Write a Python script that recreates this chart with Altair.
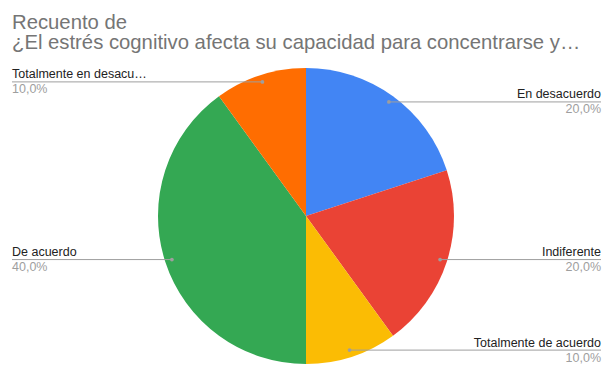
import altair as alt
import pandas as pd

categories = ["En desacuerdo", "Indiferente", "Totalmente de acuerdo", "De acuerdo", "Totalmente en desacuerdo"]
counts = [2, 2, 1, 4, 1]
colors = ["#4285F4", "#EA4335", "#FBBC04", "#34A853", "#FF6D01"]
title_lines = ["Recuento de", "¿El estrés cognitivo afecta su capacidad para concentrarse y…"]

df = pd.DataFrame({"categoria": categories, "cuenta": counts, "orden": list(range(len(categories)))})

FONT = "Liberation Sans"
CX, CY, R, RD = 306, 216, 148, 141
W, H = 605, 365

base = alt.Chart(df).transform_window(
    cum="sum(cuenta)", sort=[{"field": "orden"}]
).transform_joinaggregate(
    total="sum(cuenta)"
).transform_calculate(
    mid="(datum.cum - datum.cuenta/2) / datum.total * 2 * PI",
    pct="replace(format(datum.cuenta / datum.total * 100, '.1f'), '.', ',') + '%'",
).transform_calculate(
    px=f"{CX} + {RD} * sin(datum.mid)",
    py=f"{CY} - {RD} * cos(datum.mid)",
    right="sin(datum.mid) >= 0",
).transform_calculate(
    lx=f"datum.right ? {W - 4} : 12",
    ny="datum.py - 3.5",
    vy="datum.py + 11.5",
)

pie = alt.Chart(df).mark_arc(outerRadius=R).encode(
    theta=alt.Theta("cuenta:Q", stack=True),
    order=alt.Order("orden:Q"),
    color=alt.Color("categoria:N", scale=alt.Scale(domain=categories, range=colors), legend=None),
    x=alt.value(CX),
    y=alt.value(CY),
)

lines = base.mark_rule(color="#9e9e9e", strokeWidth=1).encode(
    x=alt.X("px:Q", scale=None),
    x2="lx:Q",
    y=alt.Y("py:Q", scale=None),
)

dots = base.mark_point(filled=True, color="#9e9e9e", size=14, opacity=1).encode(
    x=alt.X("px:Q", scale=None),
    y=alt.Y("py:Q", scale=None),
)

def labels(side_expr, align):
    b = base.transform_filter(side_expr)
    name = b.mark_text(font=FONT, fontSize=12.5, color="#222222", align=align, baseline="alphabetic", limit=137).encode(
        x=alt.X("lx:Q", scale=None), y=alt.Y("ny:Q", scale=None), text="categoria:N"
    )
    val = b.mark_text(font=FONT, fontSize=12.5, color="#9e9e9e", align=align, baseline="alphabetic").encode(
        x=alt.X("lx:Q", scale=None), y=alt.Y("vy:Q", scale=None), text="pct:N"
    )
    return name + val

title_df = pd.DataFrame({"t": title_lines, "i": [0, 1]})
title = alt.Chart(title_df).transform_calculate(ty="28.5 + datum.i * 20.4").mark_text(
    font=FONT, fontSize=20.3, color="#757575", align="left", baseline="alphabetic"
).encode(x=alt.value(12), y=alt.Y("ty:Q", scale=None), text="t:N")

chart = alt.layer(
    pie, lines, dots, labels("datum.right", "right"), labels("!datum.right", "left"), title
).properties(width=W, height=H, autosize="none", padding=0).configure_view(stroke=None)

chart.save("out.html", embed_options={"renderer": "svg", "actions": False})
